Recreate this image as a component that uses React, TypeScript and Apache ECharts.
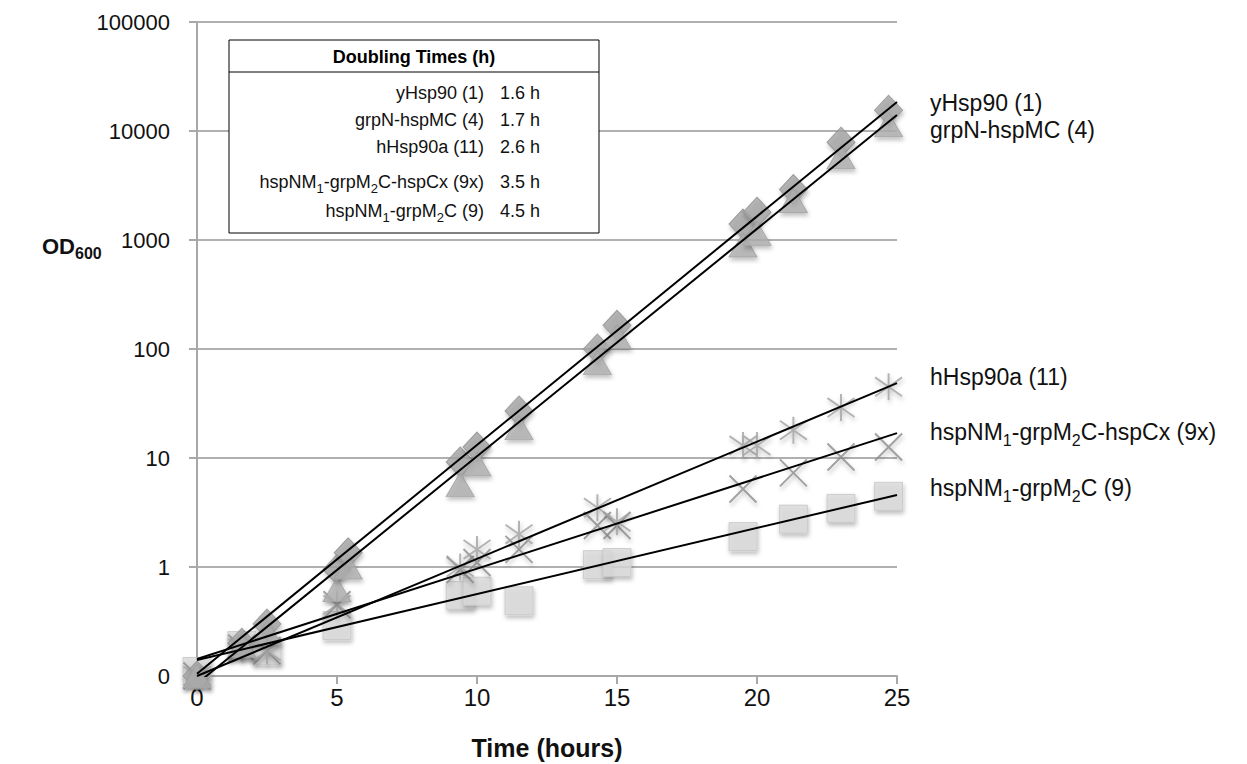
import { useEffect, useRef } from 'react';
import * as echarts from 'echarts';

// ---- data ----
const tDiamond = [0, 1.6, 2.5, 5.0, 5.4, 9.4, 10.0, 11.5, 14.3, 15.0, 19.5, 20.0, 21.3, 23.0, 24.7];
const yHsp90 = [0.1, 0.2, 0.3, 0.95, 1.35, 9.2, 12.6, 27, 100, 165, 1400, 1800, 2900, 7900, 15500];
const grpNhspMC = [0.1, 0.19, 0.25, 0.62, 1.0, 5.7, 8.8, 19, 75, 130, 900, 1150, 2300, 5800, 11400];

const tStar = [0, 1.6, 2.5, 5.0, 9.4, 10.0, 11.5, 14.3, 15.0, 19.5, 20.0, 21.3, 23.0, 24.7];
const hHsp90a = [0.1, 0.18, 0.17, 0.45, 1.0, 1.45, 2.0, 3.5, 2.6, 13, 13, 18, 29, 45];

const tCross = [0, 1.6, 2.5, 5.0, 9.4, 10.0, 11.5, 14.3, 15.0, 19.5, 21.3, 23.0, 24.7];
const hybrid9x = [0.1, 0.18, 0.17, 0.45, 0.95, 1.1, 1.45, 2.4, 2.4, 5.2, 7.3, 10.2, 12.6];

const tSquare = [0, 1.6, 2.5, 5.0, 9.4, 10.0, 11.5, 14.3, 15.0, 19.5, 21.3, 23.0, 24.7];
const hybrid9 = [0.11, 0.19, 0.17, 0.29, 0.55, 0.6, 0.49, 1.05, 1.1, 1.9, 2.75, 3.45, 4.45];

// exponential trendlines: value at t=0 and t=25
const trendT = [0, 25];
const trendYHsp90 = [0.105, 18450];
const trendGrpN = [0.085, 14000];
const trendHHsp90a = [0.1, 48.7];
const trend9x = [0.143, 16.9];
const trend9 = [0.14, 4.58];

const seriesLabels = [
  'yHsp90 (1)',
  'grpN-hspMC (4)',
  'hHsp90a (11)',
  'hspNM{s|1}-grpM{s|2}C-hspCx (9x)',
  'hspNM{s|1}-grpM{s|2}C (9)',
];
const doublingTimes = ['1.6 h', '1.7 h', '2.6 h', '3.5 h', '4.5 h'];

const xTicks = { min: 0, max: 25, interval: 5 };
const yRange = { min: 0.1, max: 100000 };

const FONT = '"Liberation Sans", Arial, Helvetica, sans-serif';

const zip = (t: number[], v: number[]) => t.map((x, i) => [x, v[i]]);

export default function App() {
  const ref = useRef<HTMLDivElement>(null);
  useEffect(() => {
    document.body.style.margin = '0';
    if (!ref.current) return;
    const chart = echarts.init(ref.current, null, { renderer: 'svg' });

    const shadow = {
      shadowBlur: 4,
      shadowOffsetX: 1,
      shadowOffsetY: 3,
      shadowColor: 'rgba(0,0,0,0.3)',
    };

    const trend = (name: string, v: number[]) => ({
      name,
      type: 'line',
      data: zip(trendT, v),
      showSymbol: false,
      symbol: 'none',
      clip: true,
      lineStyle: { color: '#000', width: 2 },
      z: 10,
      silent: true,
    });

    const rightLabelY = [103, 130, 377, 432, 488];
    const tableRowY = [93, 120, 147, 182, 211];
    const subRich = (size: number) => ({
      s: { fontSize: size, fontFamily: FONT, fill: '#111', verticalAlign: 'bottom', lineHeight: size },
    });

    const graphics: any[] = [];
    // table box
    const boxX = 229, boxY = 40, boxW = 370, boxH = 193;
    graphics.push({
      type: 'rect',
      shape: { x: boxX, y: boxY, width: boxW, height: boxH },
      style: { fill: '#fff', stroke: '#000', lineWidth: 1 },
      z: 20,
    });
    graphics.push({
      type: 'line',
      shape: { x1: boxX, y1: 72, x2: boxX + boxW, y2: 72 },
      style: { stroke: '#000', lineWidth: 1 },
      z: 21,
    });
    graphics.push({
      type: 'text',
      x: boxX + boxW / 2,
      y: 57,
      style: {
        text: 'Doubling Times (h)',
        font: `bold 18px ${FONT}`,
        fill: '#000',
        textAlign: 'center',
        textVerticalAlign: 'middle',
      },
      z: 21,
    });
    seriesLabels.forEach((lab, i) => {
      graphics.push({
        type: 'text',
        x: 484,
        y: tableRowY[i],
        style: {
          text: lab,
          font: `18px ${FONT}`,
          fill: '#111',
          textAlign: 'right',
          textVerticalAlign: 'middle',
          lineHeight: 26,
          rich: subRich(13),
        },
        z: 21,
      });
      graphics.push({
        type: 'text',
        x: 500,
        y: tableRowY[i],
        style: {
          text: doublingTimes[i],
          font: `18px ${FONT}`,
          fill: '#111',
          textAlign: 'left',
          textVerticalAlign: 'middle',
        },
        z: 21,
      });
      // right-side series labels
      graphics.push({
        type: 'text',
        x: 930,
        y: rightLabelY[i],
        style: {
          text: lab,
          font: `23px ${FONT}`,
          fill: '#111',
          textAlign: 'left',
          textVerticalAlign: 'middle',
          lineHeight: 32,
          rich: subRich(16),
        },
        z: 21,
      });
    });
    // axis titles
    graphics.push({
      type: 'text',
      x: 547,
      y: 748,
      style: {
        text: 'Time (hours)',
        font: `bold 25px ${FONT}`,
        fill: '#111',
        textAlign: 'center',
        textVerticalAlign: 'middle',
      },
    });
    graphics.push({
      type: 'text',
      x: 42,
      y: 246,
      style: {
        text: '{a|OD}{b|600}',
        fill: '#111',
        textAlign: 'left',
        textVerticalAlign: 'middle',
        lineHeight: 30,
        rich: {
          a: { font: `bold 22px ${FONT}`, fill: '#111', lineHeight: 30 },
          b: { font: `bold 16px ${FONT}`, fill: '#111', verticalAlign: 'bottom', lineHeight: 16 },
        },
      },
    });

    const option: any = {
      animation: false,
      backgroundColor: '#fff',
      grid: { left: 197, right: 350, top: 22, bottom: 88, containLabel: false },
      xAxis: {
        type: 'value',
        min: xTicks.min,
        max: xTicks.max,
        interval: xTicks.interval,
        axisLine: { show: true, onZero: false, lineStyle: { color: '#a8a8a8', width: 2 } },
        axisTick: { show: true, inside: false, length: 8, lineStyle: { color: '#a8a8a8', width: 2 } },
        axisLabel: { color: '#111', fontSize: 24, fontFamily: FONT, margin: 9 },
        splitLine: { show: false },
      },
      yAxis: {
        type: 'log',
        logBase: 10,
        min: yRange.min,
        max: yRange.max,
        interval: 1,
        axisLine: { show: true, lineStyle: { color: '#a8a8a8', width: 2 } },
        axisTick: { show: true, inside: false, length: 8, lineStyle: { color: '#a8a8a8', width: 2 } },
        axisLabel: {
          color: '#111',
          fontSize: 22,
          fontFamily: FONT,
          margin: 27,
          formatter: (v: number) => (v < 1 ? '0' : String(Math.round(v))),
        },
        splitLine: { show: true, showMinLine: false, lineStyle: { color: '#b0b0b0', width: 2 } },
      },
      series: [
        {
          name: 'hspNM1-grpM2C (9)',
          type: 'scatter',
          data: zip(tSquare, hybrid9),
          symbol: 'rect',
          symbolSize: [28, 28],
          clip: false,
          itemStyle: { color: '#d9d9d9', borderColor: '#c4c4c4', borderWidth: 1, ...shadow },
        },
        {
          name: 'hspNM1-grpM2C-hspCx (9x)',
          type: 'scatter',
          data: zip(tCross, hybrid9x),
          symbol: 'path://M0,0L10,10M10,0L0,10',
          symbolSize: [27, 27],
          clip: false,
          itemStyle: { color: 'rgba(0,0,0,0)', borderColor: '#8c8c8c', borderWidth: 2, ...shadow },
        },
        {
          name: 'hHsp90a (11)',
          type: 'scatter',
          data: zip(tStar, hHsp90a),
          symbol: 'path://M5,0L5,10M0.7,1.5L9.3,8.5M9.3,1.5L0.7,8.5',
          symbolSize: [27, 27],
          clip: false,
          itemStyle: { color: 'rgba(0,0,0,0)', borderColor: '#a3a3a3', borderWidth: 2, ...shadow },
        },
        {
          name: 'yHsp90 (1)',
          type: 'scatter',
          data: zip(tDiamond, yHsp90),
          symbol: 'diamond',
          symbolSize: [28, 30],
          clip: false,
          itemStyle: { color: '#a4a4a4', borderColor: '#8e8e8e', borderWidth: 1, ...shadow },
        },
        {
          name: 'grpN-hspMC (4)',
          type: 'scatter',
          data: zip(tDiamond, grpNhspMC),
          symbol: 'triangle',
          symbolSize: [28, 24],
          clip: false,
          itemStyle: { color: '#afafaf', borderColor: '#a0a0a0', borderWidth: 1, ...shadow },
        },
        trend('yHsp90 trend', trendYHsp90),
        trend('grpN trend', trendGrpN),
        trend('hHsp90a trend', trendHHsp90a),
        trend('9x trend', trend9x),
        trend('9 trend', trend9),
      ],
      graphic: graphics,
    };
    chart.setOption(option);
    return () => chart.dispose();
  }, []);
  return <div ref={ref} style={{ width: 1247, height: 764 }} />;
}
